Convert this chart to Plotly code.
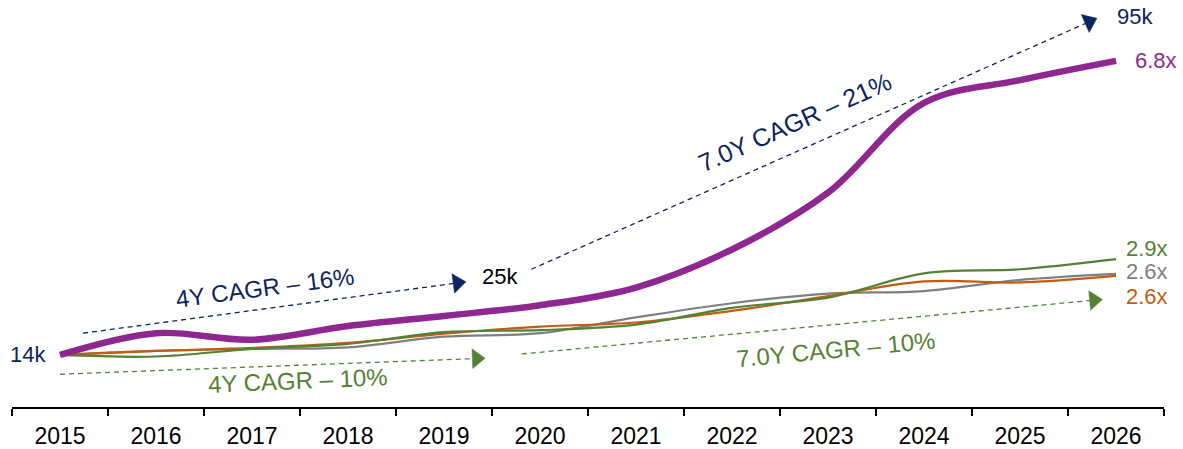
import plotly.graph_objects as go

# ---- data -------------------------------------------------------------
years = ["2015", "2016", "2017", "2018", "2019", "2020",
         "2021", "2022", "2023", "2024", "2025", "2026"]
purple_idx = [1.00, 1.43, 1.30, 1.57, 1.77, 1.98, 2.33, 3.08, 4.20, 5.97, 6.42, 6.80]
green_idx = [1.00, 0.97, 1.12, 1.22, 1.45, 1.49, 1.60, 1.93, 2.13, 2.61, 2.69, 2.89]
gray_idx = [1.00, 1.08, 1.12, 1.15, 1.36, 1.43, 1.74, 2.02, 2.21, 2.26, 2.48, 2.60]
orange_idx = [1.00, 1.08, 1.14, 1.24, 1.42, 1.56, 1.64, 1.87, 2.16, 2.45, 2.43, 2.56]

end_labels = ["6.8x", "2.9x", "2.6x", "2.6x"]
start_label = "14k"
mid_label = "25k"
top_label = "95k"
cagr_texts = ["4Y CAGR – 16%", "7.0Y CAGR – 21%", "4Y CAGR – 10%", "7.0Y CAGR – 10%"]

# CAGR arrows in (year-index, index value) units: start x, start y, end x, end y
arrow_x0 = [0.24, 4.91, 0.00, 4.81]
arrow_y0 = [1.43, 2.69, 0.62, 1.02]
arrow_x1 = [4.14, 10.72, 4.34, 10.77]
arrow_y1 = [2.42, 7.57, 0.93, 2.08]

NAVY = "#0C2461"
PURPLE = "#8E278F"
GREEN = "#548235"
GRAY = "#7F7F7F"
ORANGE = "#C55A11"
FONT = "Liberation Sans, Arial, sans-serif"

arrow_colors = [NAVY, NAVY, GREEN, GREEN]

fig = go.Figure()

series = [
    (gray_idx, GRAY, 2.2),
    (orange_idx, ORANGE, 2.2),
    (green_idx, GREEN, 2.2),
    (purple_idx, PURPLE, 6.5),
]
for vals, col, w in series:
    fig.add_trace(go.Scatter(
        x=years, y=vals, mode="lines",
        line=dict(color=col, width=w, shape="spline", smoothing=1.0),
        hoverinfo="skip", showlegend=False,
    ))

# dashed CAGR arrows on a hidden linear x axis
for i in range(4):
    fig.add_trace(go.Scatter(
        x=[arrow_x0[i], arrow_x1[i]], y=[arrow_y0[i], arrow_y1[i]],
        xaxis="x2", mode="lines+markers",
        line=dict(color=arrow_colors[i], width=1.3, dash="5px,4px"),
        marker=dict(symbol="triangle-up", size=[0, 17], color=arrow_colors[i],
                    opacity=1, angleref="previous",
                    line=dict(width=0.5, color=arrow_colors[i])),
        hoverinfo="skip", showlegend=False,
    ))

annotations = []
# end labels
last = len(years) - 1
end_vals = [purple_idx[-1], green_idx[-1], gray_idx[-1], orange_idx[-1]]
end_cols = [PURPLE, GREEN, GRAY, ORANGE]
end_xshift = [17, 8, 8, 8]
end_yshift = [0, 11, 2, -21]
for t, v, c, xs, ys in zip(end_labels, end_vals, end_cols, end_xshift, end_yshift):
    annotations.append(dict(x=last, y=v, xref="x2", yref="y", text=t, showarrow=False,
                            xanchor="left", yanchor="middle", xshift=xs, yshift=ys,
                            font=dict(family=FONT, size=22, color=c)))

annotations.append(dict(x=0, y=purple_idx[0], xref="x2", yref="y", text=start_label,
                        showarrow=False, xanchor="right", yanchor="middle", xshift=-12,
                        font=dict(family=FONT, size=22, color=NAVY)))
annotations.append(dict(x=4.375, y=2.54, xref="x2", yref="y", text=mid_label,
                        showarrow=False, xanchor="left", yanchor="middle",
                        font=dict(family=FONT, size=22, color="black")))
annotations.append(dict(x=10.99, y=7.67, xref="x2", yref="y", text=top_label,
                        showarrow=False, xanchor="left", yanchor="middle",
                        font=dict(family=FONT, size=22, color=NAVY)))

cagr_x = [2.135, 7.656, 2.479, 8.083]
cagr_y = [2.34, 5.59, 0.487, 1.10]
cagr_angle = [-7.6, -24, -2.5, -5.4]
cagr_size = [24, 25, 24, 24]
for t, x, y, a, s, c in zip(cagr_texts, cagr_x, cagr_y, cagr_angle, cagr_size, arrow_colors):
    annotations.append(dict(x=x, y=y, xref="x2", yref="y", text=t, showarrow=False,
                            textangle=a, xanchor="center", yanchor="middle",
                            font=dict(family=FONT, size=s, color=c)))

fig.update_layout(
    width=1183, height=449,
    margin=dict(l=12, r=19, t=0, b=42),
    paper_bgcolor="white", plot_bgcolor="white",
    showlegend=False,
    xaxis=dict(type="category", range=[-0.5, 11.5], tickson="boundaries",
               ticks="outside", ticklen=7, tickwidth=1.5, tickcolor="black",
               showline=True, linecolor="black", linewidth=1.5,
               showgrid=False, zeroline=False, automargin=False,
               ticklabelstandoff=8,
               tickfont=dict(family=FONT, size=23, color="black")),
    xaxis2=dict(type="linear", range=[-0.5, 11.5], overlaying="x", visible=False),
    yaxis=dict(range=[-0.026, 8.0], visible=False, showgrid=False, zeroline=False),
    annotations=annotations,
)

fig.write_html("out.html",
               config={"displayModeBar": False, "staticPlot": True},
               post_script="document.body.style.margin='0';document.body.style.padding='0';")
